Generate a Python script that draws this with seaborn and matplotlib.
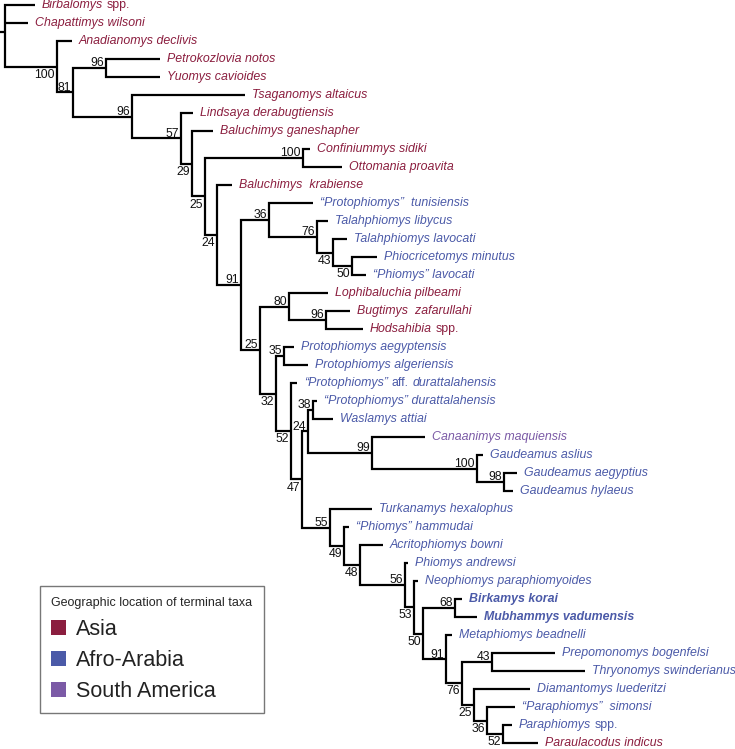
"""
Phylogeny of hystricognath rodents with bootstrap support,
tip labels coloured by geographic location.
"""

import matplotlib
matplotlib.use("Agg")

import matplotlib.pyplot as plt
from matplotlib.patches import Patch
import seaborn as sns

sns.set_theme(style="white")
plt.rcParams["font.family"] = ["Liberation Sans", "DejaVu Sans"]

# terminal taxa, top to bottom
taxa = [
    "Birbalomys spp.", "Chapattimys wilsoni", "Anadianomys declivis",
    "Petrokozlovia notos", "Yuomys cavioides", "Tsaganomys altaicus",
    "Lindsaya derabugtiensis", "Baluchimys ganeshapher", "Confiniummys sidiki",
    "Ottomania proavita", "Baluchimys  krabiense", "“Protophiomys”  tunisiensis",
    "Talahphiomys libycus", "Talahphiomys lavocati", "Phiocricetomys minutus",
    "“Phiomys” lavocati", "Lophibaluchia pilbeami", "Bugtimys  zafarullahi",
    "Hodsahibia spp.", "Protophiomys aegyptensis", "Protophiomys algeriensis",
    "“Protophiomys” aff. durattalahensis", "“Protophiomys” durattalahensis",
    "Waslamys attiai", "Canaanimys maquiensis", "Gaudeamus aslius",
    "Gaudeamus aegyptius", "Gaudeamus hylaeus", "Turkanamys hexalophus",
    "“Phiomys” hammudai", "Acritophiomys bowni", "Phiomys andrewsi",
    "Neophiomys paraphiomyoides", "Birkamys korai", "Mubhammys vadumensis",
    "Metaphiomys beadnelli", "Prepomonomys bogenfelsi", "Thryonomys swinderianus",
    "Diamantomys luederitzi", "“Paraphiomys”  simonsi", "Paraphiomys spp.",
    "Paraulacodus indicus",
]
region = (
    ["Asia"] * 11 + ["Afro-Arabia"] * 5 + ["Asia"] * 3 + ["Afro-Arabia"] * 5
    + ["South America"] + ["Afro-Arabia"] * 16 + ["Asia"]
)
# depth of each tip from the root
tip_depth = [
    30, 23, 67, 155, 155, 240, 188, 208, 305, 337, 227, 308, 323, 342, 372,
    361, 323, 345, 358, 289, 303, 292, 312, 328, 420, 478, 512, 508, 367, 344,
    378, 403, 413, 457, 472, 447, 550, 580, 525, 510, 507, 533,
]
highlight = ["Birkamys korai", "Mubhammys vadumensis"]

# internal nodes: id, children, depth, bootstrap
node_ids = [
    "root", "n100a", "n81", "n96a", "n96b", "n57", "n29", "n25a", "n100b",
    "n24a", "n91a", "n36a", "n76a", "n43a", "n50a", "n25b", "n80", "n96c",
    "n32", "n35", "n52a", "n47", "n24b", "n38", "n99", "n100c", "n98", "n55",
    "n49", "n48", "n56", "n53", "n50b", "n68", "n91b", "n76b", "n43b", "n25c",
    "n36b", "n52b",
]
node_children = [
    ["Birbalomys spp.", "Chapattimys wilsoni", "n100a"],
    ["Anadianomys declivis", "n81"],
    ["n96a", "n96b"],
    ["Petrokozlovia notos", "Yuomys cavioides"],
    ["Tsaganomys altaicus", "n57"],
    ["Lindsaya derabugtiensis", "n29"],
    ["Baluchimys ganeshapher", "n25a"],
    ["n100b", "n24a"],
    ["Confiniummys sidiki", "Ottomania proavita"],
    ["Baluchimys  krabiense", "n91a"],
    ["n36a", "n25b"],
    ["“Protophiomys”  tunisiensis", "n76a"],
    ["Talahphiomys libycus", "n43a"],
    ["Talahphiomys lavocati", "n50a"],
    ["Phiocricetomys minutus", "“Phiomys” lavocati"],
    ["n80", "n32"],
    ["Lophibaluchia pilbeami", "n96c"],
    ["Bugtimys  zafarullahi", "Hodsahibia spp."],
    ["n35", "n52a"],
    ["Protophiomys aegyptensis", "Protophiomys algeriensis"],
    ["“Protophiomys” aff. durattalahensis", "n47"],
    ["n24b", "n55"],
    ["n38", "n99"],
    ["“Protophiomys” durattalahensis", "Waslamys attiai"],
    ["Canaanimys maquiensis", "n100c"],
    ["Gaudeamus aslius", "n98"],
    ["Gaudeamus aegyptius", "Gaudeamus hylaeus"],
    ["Turkanamys hexalophus", "n49"],
    ["“Phiomys” hammudai", "n48"],
    ["Acritophiomys bowni", "n56"],
    ["Phiomys andrewsi", "n53"],
    ["Neophiomys paraphiomyoides", "n50b"],
    ["n68", "n91b"],
    ["Birkamys korai", "Mubhammys vadumensis"],
    ["Metaphiomys beadnelli", "n76b"],
    ["n43b", "n25c"],
    ["Prepomonomys bogenfelsi", "Thryonomys swinderianus"],
    ["Diamantomys luederitzi", "n36b"],
    ["“Paraphiomys”  simonsi", "n52b"],
    ["Paraphiomys spp.", "Paraulacodus indicus"],
]
node_depth = [
    0, 52, 68, 101, 127, 176, 187, 200, 298, 212, 236, 264, 312, 328, 347,
    255, 284, 321, 271, 279, 286, 297, 303, 308, 367, 472, 499, 325, 339, 355,
    400, 409, 418, 450, 441, 457, 487, 469, 482, 498,
]
node_support = [
    None, 100, 81, 96, 96, 57, 29, 25, 100, 24, 91, 36, 76, 43, 50, 25, 80,
    96, 32, 35, 52, 47, 24, 38, 99, 100, 98, 55, 49, 48, 56, 53, 50, 68, 91,
    76, 43, 25, 36, 52,
]
# support values printed under the branch instead of above it
support_below = [
    "n100a", "n29", "n25a", "n24a", "n43a", "n50a", "n32", "n52a", "n47",
    "n49", "n48", "n53", "n50b", "n76b", "n25c", "n36b", "n52b",
]

region_colors = {
    "Asia": "#8b1e3f",
    "Afro-Arabia": "#4b5aa8",
    "South America": "#7b5aa6",
}
ROMAN_WORDS = {"spp.", "aff."}


def _segments(name: str) -> list[tuple[str, str]]:
    """Split a taxon name into (text, fontstyle) runs; 'spp.'/'aff.' stay upright."""
    runs = []
    for w in name.split(" "):
        style = "normal" if w in ROMAN_WORDS else "italic"
        if runs and runs[-1][1] == style:
            runs[-1] = (runs[-1][0] + " " + w, style)
        else:
            runs.append((w, style))
    return runs


# --- layout -------------------------------------------------------------
pos = {}
for i, (name, d) in enumerate(zip(taxa, tip_depth)):
    pos[name] = (d, float(i))

node_info = {
    nid: (ch, d, s)
    for nid, ch, d, s in zip(node_ids, node_children, node_depth, node_support)
}


def _place(nid: str) -> tuple[float, float]:
    if nid in pos:
        return pos[nid]
    ch, d, _ = node_info[nid]
    ys = [_place(c)[1] for c in ch]
    pos[nid] = (d, sum(ys) / len(ys))
    return pos[nid]


_place("root")

# --- drawing ------------------------------------------------------------
fig = plt.figure(figsize=(7.35, 7.49), dpi=100)
ax = fig.add_axes([0, 0, 1, 1])
ax.set_xlim(-5, 730)
ax.set_ylim(41 + 6 / 18, -5 / 18)
ax.axis("off")

line_kw = dict(color="black", linewidth=1.6, solid_joinstyle="miter",
               solid_capstyle="butt")

for nid in node_ids:
    ch, d, s = node_info[nid]
    cxy = [pos[c] for c in ch]
    first, last = cxy[0], cxy[-1]
    ax.plot([first[0], d, d, last[0]], [first[1], first[1], last[1], last[1]], **line_kw)
    for cx, cy in cxy[1:-1]:
        ax.plot([d, cx], [cy, cy], **line_kw)

# root stem
rx, ry = pos["root"]
ax.plot([rx - 5, rx], [ry, ry], **line_kw)

# bootstrap values
for nid in node_ids:
    ch, d, s = node_info[nid]
    if s is None:
        continue
    x, y = pos[nid]
    if nid in support_below:
        ax.annotate(str(s), (x, y), xytext=(-1.5, -1.5), textcoords="offset points",
                    ha="right", va="top", fontsize=8.8, color="#111111")
    else:
        ax.annotate(str(s), (x, y), xytext=(-1.5, 1.2), textcoords="offset points",
                    ha="right", va="baseline", fontsize=8.8, color="#111111")

# tip labels, drawn run by run so that "spp." and "aff." stay upright
for name, reg in zip(taxa, region):
    x, y = pos[name]
    weight = "bold" if name in highlight else "normal"
    style_kw = dict(fontsize=8.9, fontweight=weight, color=region_colors[reg])
    prev = None
    for text, style in _segments(name):
        if prev is None:
            prev = ax.annotate(text, (x, y), xytext=(5, 0), textcoords="offset points",
                               ha="left", va="center", fontstyle=style, **style_kw)
        else:
            prev = ax.annotate(text, (1, 0.5), xycoords=prev, xytext=(2.6, 0),
                               textcoords="offset points", ha="left", va="center",
                               fontstyle=style, **style_kw)

# legend
handles = [Patch(facecolor=c, edgecolor="none", label=r) for r, c in region_colors.items()]
leg = ax.legend(
    handles=handles,
    title="Geographic location of terminal taxa",
    loc="upper left",
    bbox_to_anchor=(40 / 735, 1 - 586 / 749),
    bbox_transform=fig.transFigure,
    fontsize=15.5,
    title_fontsize=9,
    alignment="left",
    frameon=True,
    fancybox=False,
    edgecolor="#555555",
    handlelength=0.7,
    handleheight=0.7,
    handletextpad=0.45,
    labelspacing=0.46,
    borderpad=0.52,
    borderaxespad=0,
)
leg.get_frame().set_linewidth(1.0)
for t in leg.get_texts():
    t.set_color("#222222")

fig.savefig("out.png", dpi=100)
plt.close(fig)
